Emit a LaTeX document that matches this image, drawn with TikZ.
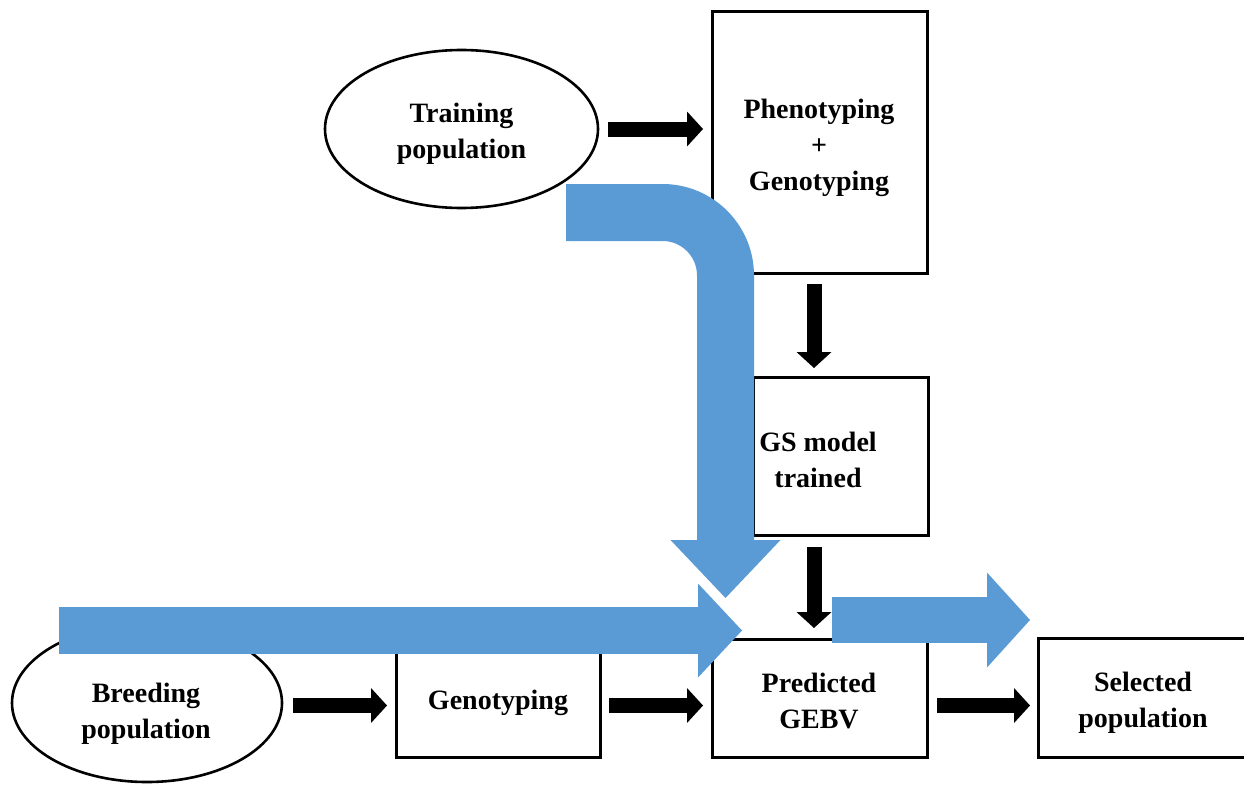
\documentclass[tikz,border=0pt]{standalone}
\usepackage{fontspec}
\setmainfont{Liberation Serif}
\usetikzlibrary{arrows.meta,shapes.geometric}
\definecolor{bluec}{HTML}{5B9BD5}
\begin{document}
\begin{tikzpicture}[x=1pt,y=-1pt,
  txt/.style={font=\fontsize{28}{36}\selectfont\bfseries, align=center, inner sep=0pt},
  boxnode/.style={draw, line width=3pt, rectangle, inner sep=0pt, outer sep=0pt},
  ellnode/.style={draw, line width=2.6pt, ellipse, inner sep=0pt, outer sep=0pt},
  blk/.style={line width=15pt, line cap=butt, -{Triangle[width=35pt,length=16pt,line width=0pt]}},
  fat/.style={bluec, line width=#1, line cap=butt},
]
\useasboundingbox (0,0) rectangle (1244,784);

% nodes
\node[ellnode, minimum width=273pt, minimum height=158pt] (train) at (461.5,129) {};
\node[txt] (traintxt) at (461.5,134) {Training\\population};
\node[boxnode, minimum width=215pt, minimum height=261pt] (pheno) at (819.5,142.5) {};
\node[txt] (phenotxt) at (819,147.5) {Phenotyping\\+\\Genotyping};
\node[boxnode, minimum width=175pt, minimum height=158pt] (gs) at (840.5,456) {};
\node[txt] (gstxt) at (818,460) {GS model\\trained};
\node[boxnode, minimum width=215pt, minimum height=118pt] (pred) at (819.5,698) {};
\node[txt] (predtxt) at (819,700.5) {Predicted\\GEBV};
\node[boxnode, minimum width=210pt, minimum height=119pt] (sel) at (1143,697.5) {};
\node[txt] (seltxt) at (1143,702.5) {Selected\\population};
\node[ellnode, minimum width=270pt, minimum height=158pt] (breed) at (147,703) {};
\node[txt] (breedtxt) at (146,714) {Breeding\\population};
\node[boxnode, minimum width=204pt, minimum height=107pt] (geno) at (498,703.5) {};
\node[txt] (genotxt) at (498,703) {Genotyping};

% black connectors
\coordinate (dcol) at (814,0);
\coordinate (brow) at (0,705.5);
\draw[blk, shorten <=10pt, shorten >=9pt] (train.east) -- (train.east -| pheno.west);
\draw[blk, shorten <=11pt, shorten >=9pt] (pheno.south -| dcol) -- (gs.north -| dcol);
\draw[blk, shorten <=12pt, shorten >=11pt] (gs.south -| dcol) -- (pred.north -| dcol);
\draw[blk, shorten <=11pt, shorten >=9pt] (brow -| breed.east) -- (brow -| geno.west);
\draw[blk, shorten <=9pt, shorten >=9pt] (brow -| geno.east) -- (brow -| pred.west);
\draw[blk, shorten <=10pt, shorten >=8pt] (brow -| pred.east) -- (brow -| sel.west);

% blue arrows
\coordinate (bendstart) at (566,212.5);
\coordinate (bendend) at (725.5,598);
\coordinate (hstart) at (59,630.5);
\coordinate (hend) at (742,630.5);
\coordinate (rstart) at (832,620);
\coordinate (rend) at (1030,620);
\draw[fat=57pt, -{Triangle[width=110pt,length=58pt,line width=0pt]}]
  (bendstart) -- (662.5,212.5) arc[start angle=-90, end angle=0, radius=63] -- (bendend);
\draw[white, line width=6pt] (694,578.7) -- (744,632.1);
\draw[fat=47pt, -{Triangle[width=94pt,length=44pt,line width=0pt]}] (hstart) -- (hend);
\draw[fat=46pt, -{Triangle[width=95pt,length=43pt,line width=0pt]}] (rstart) -- (rend);
\end{tikzpicture}
\end{document}
